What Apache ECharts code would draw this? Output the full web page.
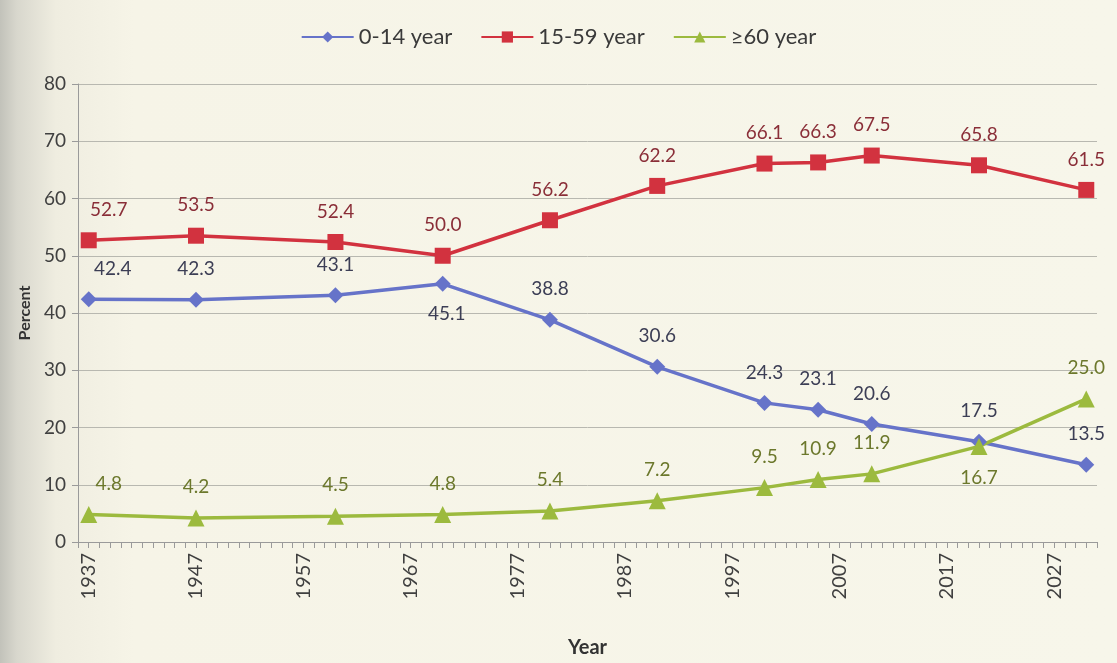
<!DOCTYPE html>
<html>
<head>
<meta charset="utf-8">
<script src="https://cdn.jsdelivr.net/npm/echarts@6/dist/echarts.min.js"></script>
<style>
html,body{margin:0;padding:0;background:#f6f4e7;}
#c{width:1117px;height:663px;}
</style>
</head>
<body>
<div id="c"></div>
<script>
// ---- data ----
const years = [1937, 1947, 1960, 1970, 1980, 1990, 2000, 2005, 2010, 2020, 2030];
const age0to14 = [42.4, 42.3, 43.1, 45.1, 38.8, 30.6, 24.3, 23.1, 20.6, 17.5, 13.5];
const age15to59 = [52.7, 53.5, 52.4, 50.0, 56.2, 62.2, 66.1, 66.3, 67.5, 65.8, 61.5];
const age60plus = [4.8, 4.2, 4.5, 4.8, 5.4, 7.2, 9.5, 10.9, 11.9, 16.7, 25.0];
const seriesNames = ['0-14 year', '15-59 year', '≥60 year'];
const labelYears = [1937, 1947, 1957, 1967, 1977, 1987, 1997, 2007, 2017, 2027];

// ---- styling ----
const FONT = 'Lato, "Open Sans", sans-serif';
const lineColors = ['#6673c9', '#d2323f', '#9cba3e'];
const labelColors = ['#3c3e55', '#8a2e38', '#6c782c'];
const symbols = ['diamond', 'rect', 'triangle'];
const symbolSizes = [16, 16, 17];
// per-point label adjustments (index -> tweak)
const labelTweaks = [
  {0: {dx: 24}, 3: {below: true, dx: 4}},
  {0: {dx: 20}},
  {0: {dx: 20}, 9: {below: true}}
];

function buildData(values, si) {
  return values.map((v, i) => {
    const t = labelTweaks[si][i] || {};
    const item = {value: [years[i], v]};
    item.label = {
      position: t.below ? 'bottom' : 'top',
      offset: [t.dx || 0, 0]
    };
    return item;
  });
}

const allValues = [age0to14, age15to59, age60plus];
const series = allValues.map((vals, si) => ({
  name: seriesNames[si],
  type: 'line',
  data: buildData(vals, si),
  symbol: symbols[si],
  symbolSize: symbolSizes[si],
  lineStyle: {color: lineColors[si], width: 3.5},
  itemStyle: {color: lineColors[si]},
  label: {
    show: true,
    distance: 13,
    color: labelColors[si],
    fontFamily: FONT,
    fontSize: 19,
    formatter: p => p.value[1].toFixed(1)
  },
  emphasis: {disabled: true},
  animation: false
}));

const chart = echarts.init(document.getElementById('c'), null, {renderer: 'canvas'});
chart.setOption({
  backgroundColor: {
    type: 'linear', x: 0, y: 0, x2: 1, y2: 0,
    colorStops: [
      {offset: 0, color: '#c2c2ba'},
      {offset: 0.015, color: '#d8d7cd'},
      {offset: 0.05, color: '#efede0'},
      {offset: 0.12, color: '#f6f4e7'},
      {offset: 1, color: '#f7f6ea'}
    ]
  },
  textStyle: {fontFamily: FONT},
  legend: {
    top: 21,
    left: 'center',
    itemWidth: 52,
    itemHeight: 14,
    itemGap: 28,
    textStyle: {fontSize: 22, color: '#3a3a3a', fontFamily: FONT},
    data: seriesNames
  },
  grid: {left: 78, right: 20, top: 84, bottom: 113},
  xAxis: {
    type: 'value',
    min: 1936,
    max: 2031,
    interval: 1,
    name: 'Year',
    nameLocation: 'middle',
    nameGap: 96,
    nameTextStyle: {fontSize: 20, fontWeight: 'bold', color: '#333', fontFamily: FONT},
    axisLine: {show: true, lineStyle: {color: '#9a9a9a', width: 1}},
    axisTick: {show: true, length: 6, lineStyle: {color: '#9a9a9a'}},
    splitLine: {show: false},
    axisLabel: {
      rotate: 90,
      margin: 11,
      fontSize: 20,
      color: '#404040',
      fontFamily: FONT,
      formatter: v => (labelYears.indexOf(Math.round(v)) >= 0 ? String(Math.round(v)) : '')
    }
  },
  yAxis: {
    type: 'value',
    min: 0,
    max: 80,
    interval: 10,
    name: 'Percent',
    nameLocation: 'middle',
    nameRotate: 90,
    nameGap: 44,
    nameTextStyle: {fontSize: 16, fontWeight: 'bold', color: '#333', fontFamily: FONT},
    axisLine: {show: true, lineStyle: {color: '#9a9a9a', width: 1}},
    axisTick: {show: true, length: 6, lineStyle: {color: '#9a9a9a'}},
    splitLine: {show: true, lineStyle: {color: '#b8b8b0', width: 1}},
    axisLabel: {fontSize: 19, color: '#404040', margin: 12, fontFamily: FONT}
  },
  series: series
});
</script>
</body>
</html>
